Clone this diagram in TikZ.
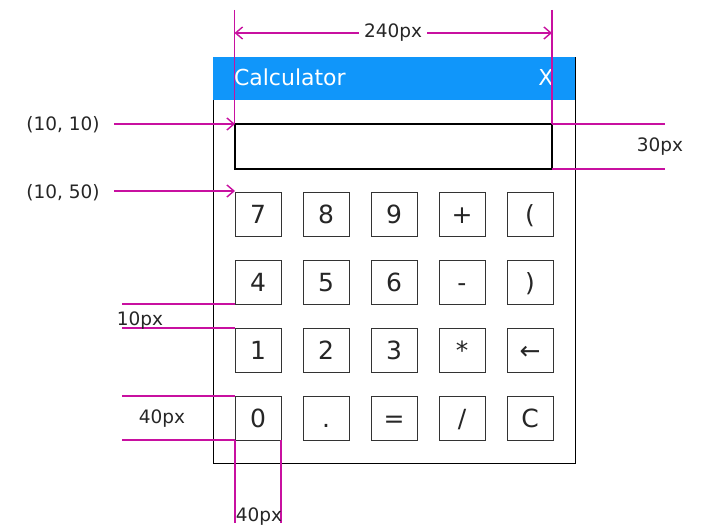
\documentclass[tikz,border=0pt]{standalone}
\usepackage{fontspec}
\setmainfont{DejaVu Sans}
\usetikzlibrary{arrows.meta}
\definecolor{mag}{RGB}{200,16,160}
\definecolor{titleblue}{RGB}{16,150,250}
\begin{document}
\begin{tikzpicture}[x=1pt,y=-1pt,outer sep=0pt,
  btn/.style={draw=black!80,line width=0.8pt,minimum width=46pt,minimum height=44pt,inner sep=0pt,text height=18.2pt,text depth=0pt,font=\fontsize{25}{27}\selectfont,text=black!85},
  dim/.style={draw=mag,line width=1.4pt},
  barb/.tip={Straight Barb[length=7pt,width=12pt,line width=1.4pt]},
  dimarrow/.style={dim,-barb},
  lbl/.style={anchor=base,inner sep=0pt,font=\fontsize{18.5}{20}\selectfont,text=black!85}]
\useasboundingbox (0,0) rectangle (716,527);
\fill[white] (0,0) rectangle (716,527);
% window
\node[draw=black,line width=0.8pt,minimum width=362pt,minimum height=406pt,anchor=north west,inner sep=0pt] (win) at (213,57) {};
\node[fill=titleblue,minimum width=362pt,minimum height=43pt,anchor=north west,inner sep=0pt] (title) at (213,57) {};
\node[anchor=base west,inner sep=0pt,text=white,font=\fontsize{22}{24}\selectfont] (ttext) at (234,86) {Calculator};
\node[anchor=base,inner sep=0pt,text=white,font=\fontsize{22}{24}\selectfont] (close) at (546,86) {X};
% display
\node[draw=black,line width=1.5pt,minimum width=317pt,minimum height=45pt,anchor=north west,inner sep=0pt] (disp) at (235,124) {};
% buttons
\node[btn] (b7) at (258,214) {7};
\node[btn] (b8) at (326,214) {8};
\node[btn] (b9) at (394,214) {9};
\node[btn] (bplus) at (462,214) {+};
\node[btn] (blp) at (530,214) {(};
\node[btn] (b4) at (258,282) {4};
\node[btn] (b5) at (326,282) {5};
\node[btn] (b6) at (394,282) {6};
\node[btn] (bminus) at (462,282) {-};
\node[btn] (brp) at (530,282) {)};
\node[btn] (b1) at (258,350) {1};
\node[btn] (b2) at (326,350) {2};
\node[btn] (b3) at (394,350) {3};
\node[btn] (bmul) at (462,350) {*};
\node[btn] (bback) at (530,350) {←};
\node[btn] (b0) at (258,418) {0};
\node[btn] (bdot) at (326,418) {.};
\node[btn] (beq) at (394,418) {=};
\node[btn] (bdiv) at (462,418) {/};
\node[btn] (bc) at (530,418) {C};
% width dimension
\coordinate (vt1) at (234.5,10);
\coordinate (vt2) at (552,10);
\draw[dim] (vt1) -- (vt1 |- disp.north);
\draw[dim] (vt2) -- (vt2 |- disp.north);
\coordinate (w1) at (234.5,33);
\coordinate (w2) at (552,33);
\draw[dim,barb-barb] (w1) -- (w2);
\node[lbl,fill=white,inner xsep=5pt,inner ysep=2pt] (wl) at (393,38) {240px};
% position labels
\node[lbl] (p1) at (63,131) {(10, 10)};
\node[lbl] (p2) at (63,198) {(10, 50)};
\coordinate (a1) at (114,124);
\coordinate (a2) at (114,191);
\draw[dimarrow] (a1) -- (a1 -| disp.west);
\draw[dimarrow] (a2) -- (a2 -| b7.west);
% height of display
\coordinate (h1) at (665,124);
\coordinate (h2) at (665,169);
\draw[dim] (h1 -| disp.east) -- (h1);
\draw[dim] (h2 -| disp.east) -- (h2);
\node[lbl] (hl) at (660,152) {30px};
% gap
\coordinate (g1) at (122,304);
\coordinate (g2) at (122,328);
\draw[dim] (g1) -- (g1 -| b4.west);
\draw[dim] (g2) -- (g2 -| b1.west);
\node[lbl] (gl) at (140,325) {10px};
% button height
\coordinate (k1) at (122,396);
\coordinate (k2) at (122,440);
\draw[dim] (k1) -- (k1 -| b0.west);
\draw[dim] (k2) -- (k2 -| b0.west);
\node[lbl] (kl) at (162,423) {40px};
% button width
\coordinate (m1) at (235,523);
\coordinate (m2) at (281,523);
\draw[dim] (m1 |- b0.south) -- (m1);
\draw[dim] (m2 |- b0.south) -- (m2);
\node[lbl] (ml) at (259,521) {40px};
\end{tikzpicture}
\end{document}
